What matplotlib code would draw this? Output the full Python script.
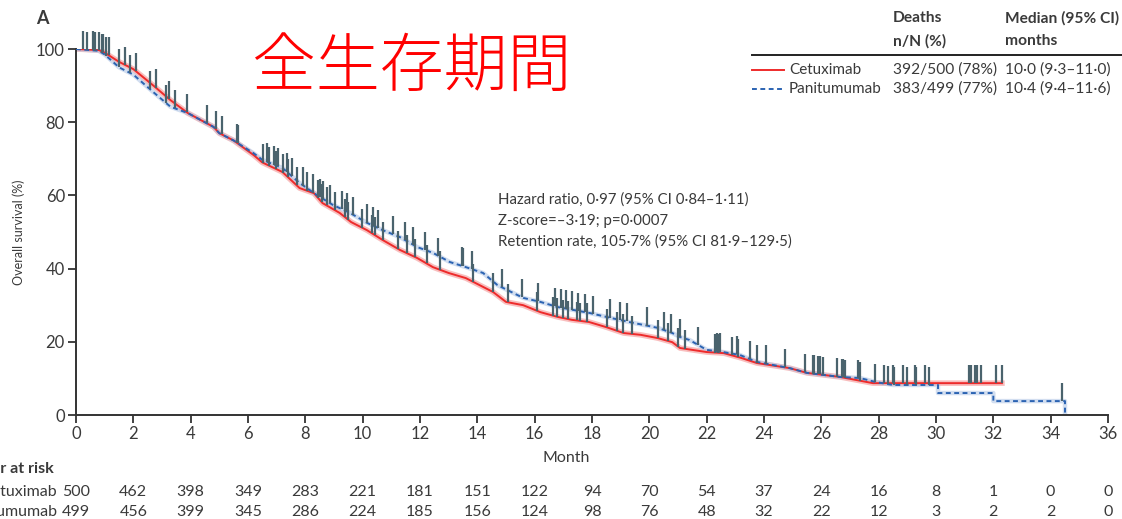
import numpy as np
import matplotlib
matplotlib.use("Agg")
import matplotlib.pyplot as plt

plt.rcParams['font.family'] = ['Lato', 'DejaVu Sans']

# Kaplan-Meier curve vertices (months, % surviving)
cet_t = [0, 0.8, 1.0, 1.5, 2.0, 2.7, 3.3, 3.9, 4.8, 5.0, 5.5, 6.2, 6.5, 7.2, 7.8, 8.3, 8.6,
         9.2, 9.6, 10.15, 10.7, 11.3, 11.9, 12.45, 13.0, 13.6, 14.2, 14.55, 15.0, 15.6, 16.2,
         16.8, 17.3, 17.9, 18.5, 19.1, 19.7, 20.3, 20.8, 21.07, 22.0, 22.6, 23.2, 23.75, 24.9,
         25.5, 26.65, 27.8, 32.3]
cet_s = [100, 99.7, 99, 96.5, 94.5, 90, 86, 82.5, 78.7, 77, 75, 71, 69, 66.4, 62, 60.6, 57.9,
         55.2, 52.7, 50.5, 47.8, 45.1, 42.9, 40.4, 38.8, 37.4, 35, 33.6, 30.9, 30, 28.1,
         26.8, 26, 25.4, 24, 22.4, 21.9, 21, 19.9, 18.3, 17.2, 16.9, 15.6, 14.2, 12.8,
         11.5, 10.4, 8.7, 8.7]

pan_t = [0, 0.8, 1.0, 1.5, 2.0, 2.7, 3.3, 3.9, 4.8, 5.0, 5.5, 6.2, 6.5, 7.2, 7.8, 8.4, 8.96,
         9.56, 10.15, 10.7, 11.3, 11.9, 12.45, 13.04, 13.6, 14.2, 14.7, 15.03, 15.6, 16.2,
         16.8, 17.9, 18.5, 19.3, 20.3, 20.8, 21.07, 21.4, 22.0, 22.57, 23.16, 23.75, 24.9,
         25.5, 26.65, 27.35, 27.9, 28.5, 30.07, 30.07, 32.0, 32.0, 34.5, 34.5]
pan_s = [100, 99.5, 98.5, 95, 93, 88.2, 84.2, 82.5, 78.7, 77, 75, 71.5, 69.7, 67.5, 63.4,
         60.1, 57.4, 55.2, 52.5, 50.5, 48.6, 45.9, 44.3, 41.8, 40.4, 38.8, 35.5, 34.2, 32,
         30.9, 29.5, 27.9, 26.8, 25.4, 23.8, 22.4, 21.3, 20.5, 17.8, 17.2, 16.4, 14.5, 12.8,
         11.5, 10.4, 10.1, 9.0, 8.2, 8.2, 6.0, 6.0, 3.8, 3.8, 0]

# Censoring times (months)
cet_cens = [0.25, 0.58, 0.81, 0.95, 1.15, 1.71, 2.08, 2.79, 3.26, 3.86, 4.88, 5.6, 6.51,
            6.74, 6.97, 7.23, 7.4, 7.7, 8.05, 8.45, 8.57, 8.74, 9.03, 9.38, 9.5, 9.97,
            10.31, 10.43, 10.72, 11.24, 11.53, 11.82, 12.23, 12.7, 13.86, 14.53, 15.06,
            16.07, 16.65, 16.77, 17.0, 17.17, 17.47, 17.58, 17.82, 18.51, 18.86, 19.07,
            19.38, 20.31, 20.66, 21.01, 21.24, 22.29, 22.41, 22.87, 23.1, 23.74, 24.73,
            25.7, 25.89, 26.07, 26.71, 26.82, 27.34, 28.18, 28.5, 28.86, 29.26, 29.6,
            31.15, 31.22, 31.36, 31.42, 31.57, 32.1, 32.3]
pan_cens = [0.37, 0.66, 0.9, 1.05, 1.51, 1.88, 2.58, 3.14, 3.46, 4.56, 5.08, 5.64, 6.65,
            6.91, 7.05, 7.35, 7.52, 7.93, 8.28, 8.51, 8.63, 8.86, 9.27, 9.44, 9.67, 10.14,
            10.37, 10.54, 11.07, 11.48, 11.77, 12.17, 12.64, 13.45, 13.49, 13.83, 14.85,
            15.55, 16.11, 16.71, 16.91, 17.09, 17.29, 17.52, 17.76, 18.04, 18.63, 18.98,
            19.21, 19.91, 20.51, 20.75, 21.07, 21.7, 22.35, 22.46, 23.05, 23.51, 24.07,
            25.43, 25.74, 25.95, 26.56, 26.76, 27.29, 27.87, 28.33, 28.54, 29.0, 29.3,
            29.75, 34.4]

months = list(range(0, 37, 2))
risk_cet = [500, 462, 398, 349, 283, 221, 181, 151, 122, 94, 70, 54, 37, 24, 16, 8, 1, 0, 0]
risk_pan = [499, 456, 399, 345, 286, 224, 185, 156, 124, 98, 76, 48, 32, 22, 12, 3, 2, 2, 0]

TXT = '#3a3a3a'
RED = '#ee2b2b'
BLUE = '#2b63b2'
MARK = '#4a636d'
DASH = (0, (2.5, 1.8))

fig = plt.figure(figsize=(11.22, 5.19), dpi=100)
ax = fig.add_axes([76 / 1122, 1 - 415 / 519, (1108 - 76) / 1122, (415 - 49) / 519])

# survival curves with a soft halo under each line
ax.plot(cet_t, cet_s, color='#f6a3a3', lw=4, alpha=0.7, zorder=2, solid_joinstyle='round')
ax.plot(cet_t, cet_s, color=RED, lw=1.4, zorder=3)
ax.plot(pan_t, pan_s, color='#b4c8e6', lw=3.2, alpha=0.6, zorder=2)
ax.plot(pan_t, pan_s, color=BLUE, lw=1.4, ls=DASH, zorder=3)

# censoring ticks rising from each curve
for cens, ts, ss in ((cet_cens, cet_t, cet_s), (pan_cens, pan_t, pan_s)):
    for c in cens:
        idx = np.searchsorted(ts, c, side='right')
        y0 = np.interp(c, ts[:idx + 1], ss[:idx + 1]) if c < ts[-1] else ss[-1]
        if c >= 34.4:
            y0 = 3.8
        ax.plot([c, c], [y0, y0 + 5.0], color=MARK, lw=1.6, zorder=4,
                clip_on=False, solid_capstyle='butt')

ax.set_xlim(0, 36)
ax.set_ylim(0, 100)
ax.set_xticks(months)
ax.set_yticks(range(0, 101, 20))
for s in ('top', 'right'):
    ax.spines[s].set_visible(False)
for s in ('left', 'bottom'):
    ax.spines[s].set_color('#333333')
    ax.spines[s].set_linewidth(1.4)
ax.tick_params(colors='#333333', labelcolor=TXT, labelsize=12, length=6, width=1.3,
               direction='out', pad=2)
ax.set_ylabel('Overall survival (%)', fontsize=9, color=TXT, labelpad=8)
fig.text(566 / 1122, 1 - 458 / 519, 'Month', fontsize=11.5, color=TXT,
         ha='center', va='center')

# panel letter and title
fig.text(36 / 1122, 1 - 18 / 519, 'A', fontsize=13, fontweight='bold', color=TXT,
         ha='left', va='center')
fig.text(412 / 1122, 1 - 68 / 519, '全生存期間', fontsize=46, color='#ff0000',
         family=['Noto Sans CJK JP'], fontweight='light', ha='center', va='center')

# statistics annotation
stats = ['Hazard ratio, 0·97 (95% CI 0·84–1·11)',
         'Z-score=–3·19; p=0·0007',
         'Retention rate, 105·7% (95% CI 81·9–129·5)']
for i, line in enumerate(stats):
    fig.text(498 / 1122, 1 - (200 + 21 * i) / 519, line, fontsize=10.8, color=TXT,
             ha='left', va='center')

# legend table
hx1, hx2 = 893 / 1122, 1005 / 1122
HFS = 11.2
fig.text(hx1, 1 - 18 / 519, 'Deaths', fontsize=HFS, fontweight='bold', color=TXT, va='center')
fig.text(hx1, 1 - 41 / 519, 'n/N (%)', fontsize=HFS, fontweight='bold', color=TXT, va='center')
fig.text(hx2, 1 - 18 / 519, 'Median (95% CI)', fontsize=HFS, fontweight='bold', color=TXT,
         va='center')
fig.text(hx2, 1 - 41 / 519, 'months', fontsize=HFS, fontweight='bold', color=TXT, va='center')
fig.add_artist(plt.Line2D([752 / 1122, 1.0], [1 - 55 / 519] * 2, color='#222222', lw=1.4,
                          transform=fig.transFigure))
rows = [('Cetuximab', '392/500 (78%)', '10·0 (9·3–11·0)', RED, '-', 70),
        ('Panitumumab', '383/499 (77%)', '10·4 (9·4–11·6)', BLUE, DASH, 89)]
for name, deaths, med, col, ls, ypx in rows:
    y = 1 - ypx / 519
    fig.add_artist(plt.Line2D([752 / 1122, 784 / 1122], [y, y], color=col, lw=1.4, ls=ls,
                              transform=fig.transFigure))
    fig.text(789 / 1122, y, name, fontsize=11, color=TXT, va='center')
    fig.text(hx1, y, deaths, fontsize=11.2, color=TXT, va='center')
    fig.text(hx2, y, med, fontsize=11.2, color=TXT, va='center')

# number at risk table
fig.text(54 / 1122, 1 - 469 / 519, 'Number at risk', fontsize=11.5, fontweight='bold',
         color=TXT, ha='right', va='center')
for label, vals, ypx in (('Cetuximab', risk_cet, 492), ('Panitumumab', risk_pan, 512)):
    y = 1 - ypx / 519
    fig.text(57 / 1122, y, label, fontsize=11.5, color=TXT, ha='right', va='center')
    for m, v in zip(months, vals):
        xf = ax.transData.transform((m, 0))[0] / fig.bbox.width
        fig.text(xf, y, str(v), fontsize=11.5, color=TXT, ha='center', va='center')

fig.savefig('out.png', dpi=100)
